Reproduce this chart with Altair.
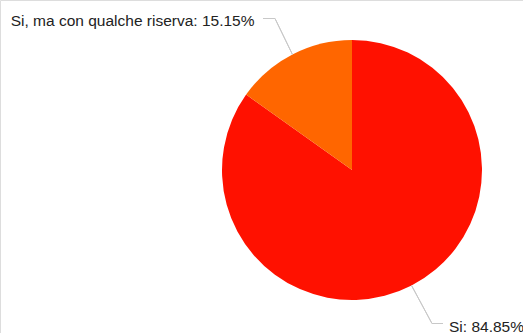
import math
import altair as alt
import pandas as pd

categories = ["Si", "Si, ma con qualche riserva"]
shares = [84.85, 15.15]
colors = ["#FF1100", "#FF6600"]

df = pd.DataFrame({
    "cat": categories,
    "share": shares,
    "order": [0, 1],
    "label": [f"{c}: {s:.2f}%" for c, s in zip(categories, shares)],
})

CX, CY, R = 352, 170, 130
W, H = 523, 333

pie = alt.Chart(df).mark_arc(outerRadius=R, stroke=None).encode(
    theta=alt.Theta("share:Q", stack=True),
    order=alt.Order("order:Q"),
    color=alt.Color("cat:N", scale=alt.Scale(domain=categories, range=colors), legend=None),
    x=alt.value(CX),
    y=alt.value(CY),
)

# mid-angles of each slice (clockwise from 12 o'clock)
total = sum(shares)
mids = []
acc = 0.0
for s in shares:
    mids.append((acc + s / 2) / total * 2 * math.pi)
    acc += s

def edge(a):
    return CX + R * math.sin(a), CY - R * math.cos(a)

grey = "#c8c8c8"
layers = [pie]

# connector for "Si" (bottom right)
ex, ey = edge(mids[0])
bx, by = 432, 323.5
layers.append(alt.Chart(df).mark_rule(color=grey, strokeWidth=1).encode(
    x=alt.value(ex), y=alt.value(ey), x2=alt.value(bx), y2=alt.value(by)))
layers.append(alt.Chart(df).mark_rule(color=grey, strokeWidth=1).encode(
    x=alt.value(bx), y=alt.value(by), x2=alt.value(443), y2=alt.value(by)))

# connector for "Si, ma..." (top left)
ex2, ey2 = edge(mids[1])
tx, ty = 275, 18.5
layers.append(alt.Chart(df).mark_rule(color=grey, strokeWidth=1).encode(
    x=alt.value(ex2), y=alt.value(ey2), x2=alt.value(tx), y2=alt.value(ty)))
layers.append(alt.Chart(df).mark_rule(color=grey, strokeWidth=1).encode(
    x=alt.value(tx), y=alt.value(ty), x2=alt.value(263), y2=alt.value(ty)))

text_common = dict(font="Liberation Sans", fontSize=15.5, color="#222222", baseline="alphabetic")
layers.append(alt.Chart(df).transform_filter(alt.datum.order == 0).mark_text(
    align="left", **text_common).encode(
    x=alt.value(449), y=alt.value(331.5), text="label:N"))
layers.append(alt.Chart(df).transform_filter(alt.datum.order == 1).mark_text(
    align="right", **text_common).encode(
    x=alt.value(254.5), y=alt.value(25.5), text="label:N"))

chart = alt.layer(*layers).properties(
    width=W, height=H, padding=0, autosize=alt.AutoSizeParams(type="none")
).configure_view(stroke=None).configure(background="white")

chart.save("out.html", embed_options={"renderer": "svg", "actions": False})
